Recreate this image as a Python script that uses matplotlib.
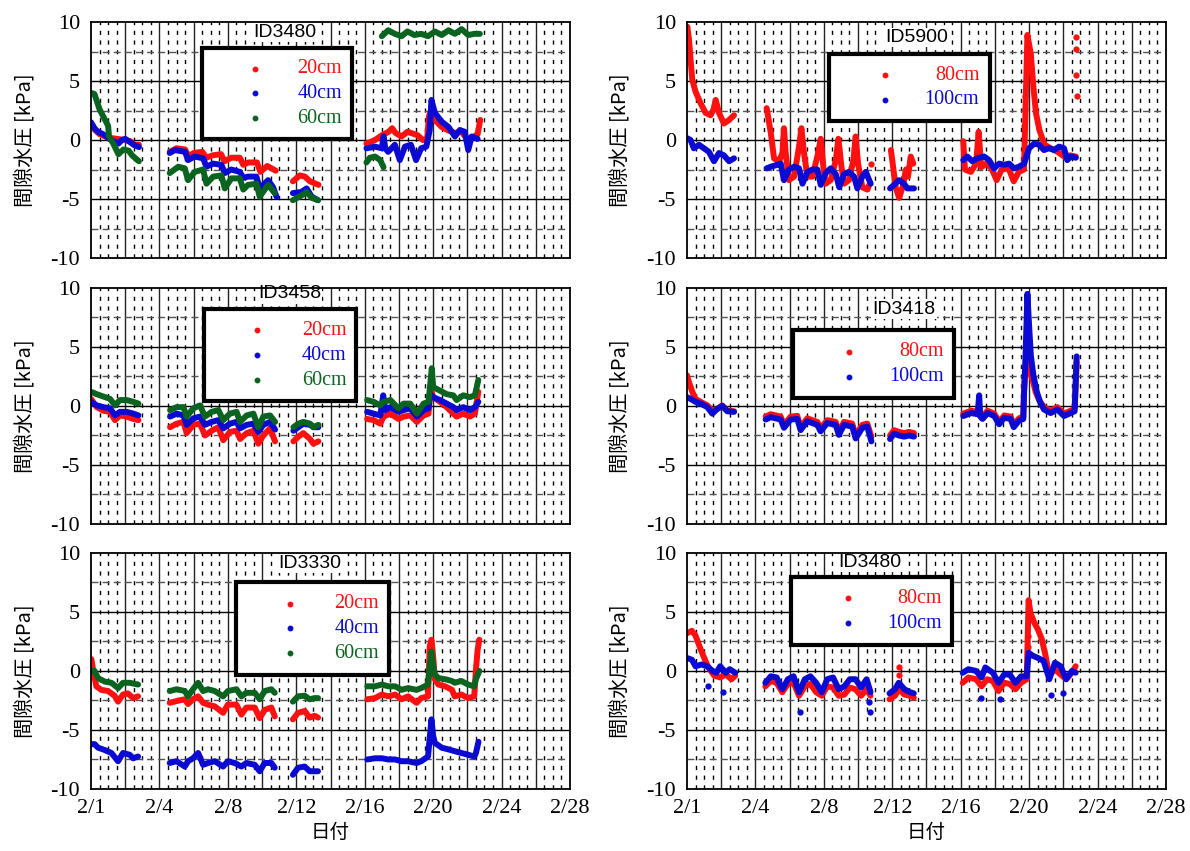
import numpy as np
import matplotlib
matplotlib.use("Agg")
import matplotlib.pyplot as plt
from matplotlib.patches import Rectangle

plt.rcParams["font.family"] = ["Liberation Serif", "DejaVu Sans"]

CJK = ["Noto Sans CJK JP", "DejaVu Sans"]
RED = "#ff1010"
BLUE = "#0a0ad2"
GREEN = "#0a6420"

X_TICKS = [0, 4, 8, 12, 16, 20, 24, 28]
X_LABELS = ["2/1", "2/4", "2/8", "2/12", "2/16", "2/20", "2/24", "2/28"]
Y_TICKS = [-10, -5, 0, 5, 10]

# ---------------- ID3480 (左上) ----------------
A20 = [
    [(0.0, 1.3), (0.2, 0.9), (0.5, 0.5), (1.0, 0.2), (1.5, 0.1), (2.0, 0.0), (2.3, -0.1), (2.5, -0.4), (2.8, -0.4)],
    [(4.6, -1.0), (5.0, -0.7), (5.5, -0.8), (5.7, -1.4), (6.0, -1.1), (6.5, -1.0), (6.75, -1.5), (7.1, -1.3), (7.6, -1.2),
     (7.8, -1.8), (8.2, -1.5), (8.7, -1.5), (8.9, -2.1), (9.2, -1.9), (9.7, -1.9), (9.9, -2.7), (10.3, -2.2), (10.8, -2.6)],
    [(11.8, -3.5), (12.2, -3.0), (12.5, -3.1), (12.8, -3.5), (13.3, -3.8)],
    [(16.1, -0.3), (16.6, 0.0), (17.0, 0.4), (17.4, 0.7), (17.6, 1.0), (17.8, 0.6), (18.15, 0.3), (18.5, 0.7), (19.1, 0.4),
     (19.4, 0.0), (19.65, 0.1), (19.75, 2.0), (19.85, 2.4), (20.1, 1.7), (20.5, 1.1), (20.9, 0.8), (21.3, 0.6), (21.65, 0.7),
     (22.05, 0.0), (22.4, 0.3), (22.6, 0.5), (22.75, 1.7)],
]
A40 = [
    [(0.0, 1.5), (0.2, 1.0), (0.4, 0.7), (0.7, 0.5), (1.0, 0.2), (1.3, -0.1), (1.6, -0.3), (1.8, 0.0), (2.0, 0.1), (2.3, -0.2),
     (2.5, -0.4), (2.8, -0.6)],
    [(4.6, -1.1), (4.9, -0.85), (5.5, -1.0), (5.67, -1.7), (6.06, -1.4), (6.55, -1.55), (6.75, -2.26), (7.14, -2.0), (7.62, -2.1),
     (7.82, -2.8), (8.2, -2.5), (8.7, -2.7), (8.9, -3.2), (9.18, -3.1), (9.67, -3.1), (9.86, -4.1), (10.35, -3.4), (10.64, -4.0),
     (10.84, -4.8)],
    [(11.8, -4.5), (12.3, -4.4), (12.6, -4.1), (12.9, -4.8), (13.27, -5.1)],
    [(16.1, -0.7), (16.6, -0.56), (17.0, -0.7), (17.1, 0.3), (17.2, -0.7), (17.37, -1.0), (17.76, -0.4), (18.05, -1.7),
     (18.35, -0.56), (18.7, -0.4), (19.0, -1.7), (19.3, -0.7), (19.6, -0.56), (19.8, 0.85), (19.9, 3.4), (20.1, 2.3),
     (20.5, 1.55), (20.9, 1.1), (21.27, 0.3), (21.56, 0.85), (21.85, 0.7), (22.05, -0.85), (22.25, 0.3), (22.6, 0.1)],
]
A60 = [
    [(0.0, 4.0), (0.2, 3.9), (0.5, 2.6), (1.0, 1.2), (1.05, 0.3), (1.3, -0.3), (1.6, -1.2), (1.9, -0.8), (2.2, -0.9),
     (2.4, -1.3), (2.8, -1.8)],
    [(4.6, -2.8), (5.1, -2.26), (5.48, -2.4), (5.67, -3.4), (6.06, -2.7), (6.55, -2.5), (6.75, -3.7), (7.14, -3.1), (7.62, -3.0),
     (7.82, -4.1), (8.2, -3.25), (8.7, -3.25), (8.9, -4.2), (9.18, -3.8), (9.67, -3.7), (9.86, -4.8), (10.35, -3.8), (10.74, -4.5)],
    [(11.8, -5.1), (12.3, -4.7), (12.6, -4.4), (12.9, -4.9), (13.27, -5.1)],
    [(16.1, -1.9), (16.3, -1.5), (16.6, -1.4), (16.9, -1.7), (17.1, -2.3)],
    [(17.0, 8.8), (17.37, 9.3), (17.76, 9.0), (18.15, 8.8), (18.5, 9.2), (18.9, 8.9), (19.3, 9.0), (19.7, 8.8), (20.1, 9.2),
     (20.5, 8.9), (20.9, 9.3), (21.27, 9.0), (21.66, 9.4), (22.05, 8.9), (22.4, 9.0), (22.73, 9.0)],
]

# ---------------- ID5900 (右上) ----------------
B80 = [
    [(0.02, 9.6), (0.12, 8.5), (0.21, 6.8), (0.31, 5.1), (0.5, 4.1), (0.8, 3.1), (1.09, 2.3), (1.38, 2.1), (1.55, 2.6),
     (1.68, 3.4), (1.87, 2.3), (2.16, 1.4), (2.46, 1.7), (2.75, 2.1)],
    [(4.66, 2.7), (4.9, 0.6), (5.09, -1.55), (5.38, -1.8), (5.58, -1.1), (5.67, 1.0), (5.77, -1.1), (5.96, -3.4), (6.26, -3.1),
     (6.55, -0.56), (6.69, 1.0), (6.84, -1.1), (7.04, -3.1), (7.33, -3.1), (7.62, -1.4), (7.82, 0.1), (7.97, -2.26),
     (8.11, -3.7), (8.4, -3.4), (8.7, -1.7), (8.85, 0.1), (9.03, -2.26), (9.18, -3.7), (9.47, -3.4), (9.73, -1.7),
     (9.86, 0.3), (10.0, -2.0), (10.25, -4.0), (10.55, -4.2), (10.65, -3.8)],
    [(11.92, -0.85), (12.0, -1.7), (12.2, -4.0), (12.4, -4.9), (12.6, -4.0), (12.8, -2.5), (12.92, -3.1), (13.08, -1.4),
     (13.23, -2.0)],
    [(16.15, -0.1), (16.25, -2.5), (16.6, -2.7), (16.9, -2.0), (17.05, 0.7), (17.2, -2.3), (17.5, -2.0), (17.8, -2.4),
     (18.1, -3.4), (18.4, -2.5), (18.8, -2.4), (19.1, -3.5), (19.4, -2.7), (19.7, -2.5), (19.9, 8.9), (20.1, 7.3),
     (20.25, 4.5), (20.4, 2.3), (20.6, 0.85), (20.9, -0.4), (21.27, -0.7), (21.66, -1.0), (22.05, -1.4), (22.4, -1.3),
     (22.73, -1.4)],
]
B80_EXTRA = [(10.78, -2.0), (19.72, 1.2), (19.75, 2.6), (19.78, 3.7), (22.75, 8.7), (22.75, 7.7), (22.75, 5.5), (22.78, 3.7)]
B100 = [
    [(0.02, 0.15), (0.21, 0.0), (0.4, -0.7), (0.7, -0.4), (0.99, -0.7), (1.28, -1.0), (1.58, -1.8), (1.87, -1.1),
     (2.16, -1.3), (2.46, -1.8), (2.75, -1.55)],
    [(4.66, -2.4), (4.9, -2.26), (5.28, -2.1), (5.48, -2.0), (5.67, -3.4), (5.96, -2.5), (6.26, -2.26), (6.55, -2.4),
     (6.75, -3.7), (7.04, -2.7), (7.33, -2.5), (7.62, -2.5), (7.82, -3.8), (8.11, -2.8), (8.4, -2.4), (8.7, -2.9),
     (8.9, -4.0), (9.18, -2.9), (9.47, -2.7), (9.77, -3.1), (9.96, -4.1), (10.25, -3.1), (10.45, -2.7), (10.74, -3.7)],
    [(11.87, -4.1), (12.1, -3.8), (12.39, -3.4), (12.69, -3.7), (12.88, -4.1), (13.27, -4.1)],
    [(16.15, -1.7), (16.39, -1.4), (16.68, -1.8), (16.97, -1.55), (17.37, -1.4), (17.66, -1.7), (17.95, -2.4), (18.25, -2.0),
     (18.54, -2.1), (18.83, -2.0), (19.12, -2.4), (19.41, -2.26), (19.71, -2.0), (20.0, -0.7), (20.3, -0.3), (20.58, -0.4),
     (20.87, -0.85), (21.16, -0.7), (21.46, -0.85), (21.75, -0.56), (22.04, -0.7), (22.23, -1.7), (22.43, -1.4),
     (22.73, -1.5)],
]

# ---------------- ID3458 (左中) ----------------
C20 = [
    [(0.0, 0.6), (0.33, -0.1), (0.72, -0.4), (1.11, -0.5), (1.4, -1.2), (1.69, -0.8), (2.08, -0.9), (2.47, -1.1), (2.77, -1.2)],
    [(4.62, -1.8), (5.0, -1.5), (5.4, -1.35), (5.59, -2.3), (5.98, -1.6), (6.37, -1.5), (6.66, -2.5), (7.05, -2.1),
     (7.44, -1.8), (7.73, -2.9), (8.12, -2.2), (8.51, -2.1), (8.71, -2.8), (9.1, -2.3), (9.49, -2.1), (9.78, -3.2),
     (10.07, -2.5), (10.46, -1.9), (10.76, -3.0)],
    [(11.83, -3.0), (12.12, -2.6), (12.41, -2.3), (12.8, -2.8), (13.0, -3.2), (13.29, -3.0)],
    [(16.14, -1.1), (16.52, -1.2), (16.91, -1.5), (17.1, -0.9), (17.5, -0.65), (17.97, -1.1), (18.27, -0.9), (18.66, -0.8),
     (19.05, -1.35), (19.44, -0.8), (19.73, -0.65), (19.83, 1.6), (20.0, 0.75), (20.4, 0.35), (20.79, -0.1), (21.18, -0.65),
     (21.37, -0.9), (21.76, -0.65), (22.15, -0.9), (22.44, -0.65), (22.64, 1.2)],
]
C40 = [
    [(0.0, 0.35), (0.33, 0.05), (0.72, -0.1), (1.11, -0.2), (1.4, -0.8), (1.69, -0.5), (2.08, -0.5), (2.47, -0.65), (2.77, -0.8)],
    [(4.62, -0.9), (5.0, -0.65), (5.4, -0.8), (5.59, -1.6), (5.98, -1.05), (6.37, -0.9), (6.66, -1.6), (7.05, -1.35),
     (7.44, -1.2), (7.73, -1.9), (8.12, -1.5), (8.51, -1.35), (8.71, -1.9), (9.1, -1.6), (9.49, -1.5), (9.78, -2.2),
     (10.07, -1.6), (10.46, -1.35), (10.76, -2.0)],
    [(11.83, -2.1), (12.12, -1.8), (12.41, -1.5), (12.8, -1.6), (13.0, -1.8), (13.29, -1.8)],
    [(16.14, -0.5), (16.52, -0.65), (16.91, -0.8), (17.08, 0.9), (17.2, -0.35), (17.5, -0.1), (17.97, -0.5), (18.27, -0.35),
     (18.66, -0.2), (19.05, -0.9), (19.44, -0.35), (19.73, -0.2), (19.83, 1.0), (20.0, 0.75), (20.4, 0.5), (20.79, 0.2),
     (21.18, -0.1), (21.37, -0.35), (21.76, -0.1), (22.15, -0.35), (22.44, -0.1), (22.64, 0.35)],
]
C60 = [
    [(0.0, 1.2), (0.33, 1.0), (0.72, 0.8), (1.11, 0.6), (1.4, 0.05), (1.69, 0.5), (2.08, 0.5), (2.47, 0.35), (2.77, 0.2)],
    [(4.62, -0.35), (5.0, -0.1), (5.4, -0.1), (5.59, -0.9), (5.98, -0.2), (6.37, 0.05), (6.66, -0.9), (7.05, -0.5),
     (7.44, -0.35), (7.73, -1.2), (8.12, -0.65), (8.51, -0.5), (8.71, -1.35), (9.1, -0.8), (9.49, -0.65), (9.78, -1.8),
     (10.07, -0.9), (10.46, -0.8), (10.76, -1.35)],
    [(11.83, -1.8), (12.12, -1.5), (12.41, -1.35), (12.8, -1.5), (13.0, -1.8), (13.29, -1.6)],
    [(16.14, 0.5), (16.52, 0.35), (16.91, 0.05), (17.1, 0.35), (17.5, 0.5), (17.97, -0.2), (18.27, 0.2), (18.66, 0.2),
     (19.05, -0.65), (19.44, 0.2), (19.73, 0.35), (19.92, 3.2), (20.0, 1.6), (20.4, 1.3), (20.79, 1.0), (21.18, 0.9),
     (21.37, 0.5), (21.76, 0.9), (22.15, 0.75), (22.44, 0.9), (22.64, 2.2)],
]

# ---------------- ID3418 (右中) ----------------
D80 = [
    [(0.0, 2.6), (0.12, 2.0), (0.31, 1.2), (0.5, 0.6), (0.8, 0.35), (1.19, 0.05), (1.48, -0.4), (1.77, -0.25), (2.06, 0.05),
     (2.36, -0.4), (2.75, -0.45)],
    [(4.6, -0.9), (4.89, -0.7), (5.48, -0.9), (5.67, -1.6), (6.06, -0.9), (6.45, -0.85), (6.64, -1.8), (7.03, -1.05),
     (7.62, -1.35), (7.81, -1.9), (8.2, -1.2), (8.69, -1.35), (8.88, -2.2), (9.18, -1.35), (9.66, -1.5), (9.86, -2.5),
     (10.25, -1.6), (10.54, -1.5), (10.78, -2.6)],
    [(11.87, -2.5), (12.1, -2.05), (12.39, -2.2), (12.69, -2.3), (12.98, -2.2), (13.27, -2.3)],
    [(16.15, -0.65), (16.6, -0.4), (16.99, -0.5), (17.28, -0.9), (17.57, -0.4), (17.96, -0.65), (18.25, -1.35), (18.55, -0.8),
     (18.92, -0.9), (19.1, -1.6), (19.41, -1.05), (19.66, -0.9), (19.7, 1.2), (19.8, 3.4), (19.9, 3.6), (20.0, 2.9),
     (20.19, 2.3), (20.38, 1.2), (20.58, 0.5), (20.87, -0.1), (21.26, -0.4), (21.65, -0.1), (22.04, -0.65), (22.43, -0.4),
     (22.66, -0.25), (22.78, 3.7)],
]
D100 = [
    [(0.0, 0.75), (0.21, 0.6), (0.5, 0.35), (0.8, 0.2), (1.19, -0.1), (1.48, -0.65), (1.77, -0.25), (2.06, 0.0),
     (2.36, -0.45), (2.75, -0.5)],
    [(4.6, -1.15), (4.89, -0.95), (5.48, -1.15), (5.67, -1.85), (6.06, -1.15), (6.45, -1.1), (6.64, -2.05), (7.03, -1.3),
     (7.62, -1.6), (7.81, -2.15), (8.2, -1.45), (8.69, -1.6), (8.88, -2.45), (9.18, -1.6), (9.66, -1.75), (9.86, -2.75),
     (10.25, -1.85), (10.54, -1.75), (10.78, -3.0)],
    [(11.87, -2.8), (12.1, -2.35), (12.39, -2.5), (12.69, -2.6), (12.98, -2.5), (13.27, -2.6)],
    [(16.15, -0.85), (16.6, -0.6), (16.99, -0.7), (17.08, 0.9), (17.15, -0.9), (17.28, -1.1), (17.57, -0.6), (17.96, -0.85),
     (18.25, -1.55), (18.55, -1.0), (18.92, -1.1), (19.1, -1.8), (19.41, -1.25), (19.66, -1.1), (19.7, 0.9), (19.8, 4.6),
     (19.9, 9.5), (20.0, 6.8), (20.1, 4.3), (20.25, 2.6), (20.45, 1.2), (20.65, 0.3), (20.87, -0.3), (21.26, -0.6),
     (21.65, -0.3), (22.04, -0.85), (22.43, -0.6), (22.66, -0.45), (22.78, 4.2)],
]

# ---------------- ID3330 (左下) ----------------
E20 = [
    [(0.02, 1.0), (0.12, 0.1), (0.31, -1.3), (0.6, -1.6), (0.99, -1.7), (1.38, -2.1), (1.58, -2.6), (1.87, -2.0),
     (2.16, -1.9), (2.46, -2.3), (2.75, -2.15)],
    [(4.6, -2.7), (5.0, -2.55), (5.48, -2.4), (5.67, -2.8), (5.96, -2.4), (6.26, -2.15), (6.55, -2.7), (6.84, -2.85),
     (7.23, -3.0), (7.72, -3.55), (8.0, -2.85), (8.5, -2.85), (8.79, -3.7), (9.08, -3.1), (9.57, -3.1), (9.86, -4.0),
     (10.15, -3.3), (10.54, -3.1), (10.74, -3.85)],
    [(11.8, -4.1), (12.1, -3.55), (12.49, -3.4), (12.78, -3.95), (13.07, -3.8), (13.27, -3.95)],
    [(16.15, -2.4), (16.6, -2.3), (17.0, -2.0), (17.38, -2.15), (17.78, -2.0), (18.15, -2.4), (18.53, -2.15), (19.03, -2.7),
     (19.3, -2.3), (19.7, -2.15), (19.8, 2.1), (19.9, 2.65), (20.0, 1.25), (20.1, -0.7), (20.3, -1.15), (20.7, -1.3),
     (21.1, -1.6), (21.26, -2.15), (21.65, -2.0), (22.04, -2.3), (22.4, -2.15), (22.5, 0.1), (22.6, 1.8), (22.7, 2.65)],
]
E40 = [
    [(0.02, -6.2), (0.21, -6.2), (0.41, -6.5), (0.8, -6.7), (1.19, -6.95), (1.58, -7.65), (1.87, -6.95), (2.26, -7.1),
     (2.46, -7.4), (2.75, -7.25)],
    [(4.6, -7.8), (5.0, -7.65), (5.48, -8.1), (5.67, -7.65), (5.96, -7.4), (6.26, -6.95), (6.55, -7.95), (6.84, -7.8),
     (7.23, -7.65), (7.72, -8.1), (8.0, -7.65), (8.4, -7.8), (8.79, -8.1), (9.08, -7.8), (9.57, -7.95), (9.86, -8.5),
     (10.15, -7.8), (10.54, -7.8), (10.74, -8.2)],
    [(11.8, -8.8), (12.1, -8.2), (12.49, -8.1), (12.78, -8.5), (13.07, -8.5), (13.27, -8.5)],
    [(16.15, -7.5), (16.6, -7.4), (17.0, -7.4), (17.38, -7.5), (17.78, -7.5), (18.15, -7.65), (18.53, -7.65), (19.03, -7.8),
     (19.3, -7.65), (19.7, -7.25), (19.9, -4.1), (20.0, -5.5), (20.1, -6.1), (20.5, -6.5), (20.9, -6.65), (21.26, -6.8),
     (21.65, -6.95), (22.04, -7.1), (22.4, -7.25), (22.5, -6.95), (22.65, -6.0)],
]
E60 = [
    [(0.02, 0.0), (0.21, 0.0), (0.41, -0.6), (0.8, -0.9), (1.19, -1.0), (1.58, -1.45), (1.87, -1.0), (2.26, -1.0),
     (2.75, -1.15)],
    [(4.6, -1.7), (5.0, -1.55), (5.48, -1.7), (5.67, -2.15), (5.96, -1.55), (6.26, -1.0), (6.55, -1.7), (6.84, -1.55),
     (7.23, -1.7), (7.72, -2.15), (8.0, -1.7), (8.5, -1.55), (8.79, -2.15), (9.08, -1.85), (9.57, -1.85), (9.86, -2.4),
     (10.15, -1.7), (10.54, -1.55), (10.74, -1.85)],
    [(11.8, -2.6), (12.1, -2.15), (12.49, -2.1), (12.78, -2.4), (13.07, -2.3), (13.27, -2.3)],
    [(16.15, -1.3), (16.6, -1.3), (17.0, -1.15), (17.38, -1.3), (17.78, -1.3), (18.15, -1.6), (18.53, -1.45), (19.03, -1.6),
     (19.3, -1.45), (19.7, -1.15), (19.8, 0.4), (19.9, 1.65), (20.0, 0.4), (20.1, -0.3), (20.3, -0.6), (20.7, -0.7),
     (21.1, -0.85), (21.26, -1.0), (21.65, -0.85), (22.04, -1.15), (22.4, -1.3), (22.5, -0.7), (22.7, 0.0)],
]

# ---------------- ID3480 (右下) ----------------
F80 = [
    [(0.0, 3.2), (0.29, 3.4), (0.5, 3.0), (0.73, 2.1), (0.95, 1.3), (1.17, 0.55), (1.39, 0.0), (1.6, -0.4), (1.94, -0.55),
     (2.27, -0.3), (2.6, -0.7), (2.82, -0.4)],
    [(4.58, -1.3), (4.9, -0.85), (5.24, -1.0), (5.57, -1.8), (5.9, -1.1), (6.23, -1.0), (6.55, -2.1), (6.89, -1.3),
     (7.21, -1.1), (7.55, -1.8), (7.88, -2.1), (8.2, -1.3), (8.54, -1.4), (8.87, -2.1), (9.2, -2.0), (9.52, -1.4),
     (9.85, -1.55), (10.18, -2.1), (10.5, -1.55), (10.73, -2.1)],
    [(11.84, -2.4), (12.16, -2.1), (12.38, -1.55), (12.71, -2.0), (13.04, -2.1), (13.26, -2.26)],
    [(16.12, -1.0), (16.45, -0.55), (16.9, -0.7), (17.22, -1.3), (17.55, -0.7), (17.88, -0.85), (18.21, -1.7), (18.54, -1.0),
     (18.87, -1.1), (19.2, -1.55), (19.53, -1.0), (19.86, -0.7), (19.97, 6.0), (20.08, 4.9), (20.3, 4.1), (20.52, 3.5),
     (20.74, 2.7), (20.96, 1.3), (21.18, -0.4), (21.51, 0.15), (21.84, -0.3), (22.17, -0.7), (22.5, -0.15), (22.72, 0.4)],
]
F80_EXTRA = [(12.38, 0.3), (12.38, -0.3), (19.95, 2.0), (19.95, 3.0)]
F100 = [
    [(0.0, 1.1), (0.29, 0.95), (0.5, 0.4), (0.85, 0.55), (1.17, 0.4), (1.5, 0.0), (1.72, -0.15), (1.94, 0.4), (2.27, -0.15),
     (2.5, 0.15), (2.82, -0.15)],
    [(4.58, -1.0), (4.9, -0.45), (5.24, -0.55), (5.57, -1.55), (5.9, -0.7), (6.23, -0.45), (6.55, -1.8), (6.89, -0.7),
     (7.21, -0.45), (7.55, -1.0), (7.88, -1.8), (8.2, -0.7), (8.54, -0.55), (8.87, -1.55), (9.2, -1.3), (9.52, -0.7),
     (9.85, -0.7), (10.18, -1.4), (10.5, -0.7), (10.73, -1.8)],
    [(11.84, -1.9), (12.16, -1.55), (12.38, -1.0), (12.71, -1.55), (13.04, -1.8), (13.26, -1.9)],
    [(16.12, -0.15), (16.45, 0.15), (16.9, 0.0), (17.22, -0.55), (17.44, 0.3), (17.88, -0.15), (18.21, -1.0), (18.54, -0.3),
     (18.87, -0.3), (19.2, -1.0), (19.53, -0.45), (19.86, -0.45), (19.97, 1.55), (20.2, 1.3), (20.52, 1.1), (20.85, 0.85),
     (21.18, -0.7), (21.51, 0.7), (21.84, 0.4), (22.17, -0.7), (22.5, 0.0), (22.72, -0.15)],
]
F100_EXTRA = [(1.2, -1.3), (2.1, -1.8), (6.6, -3.5), (10.7, -3.5), (10.65, -2.6), (17.2, -2.3), (18.3, -2.4),
              (21.3, -2.0), (22.0, -1.9)]

# パネル: (位置, タイトル, タイトル位置, 凡例枠, 系列)
PANELS = [
    ([0.0765, 0.6968], "ID3480", (11.3, 9.15), (6.5, 0.1, 15.25, 7.8),
     [("20cm", RED, A20, []), ("40cm", BLUE, A40, []), ("60cm", GREEN, A60, [])]),
    ([0.5773, 0.6968], "ID5900", (13.4, 8.7), (8.3, 1.6, 17.7, 7.3),
     [("80cm", RED, B80, B80_EXTRA), ("100cm", BLUE, B100, [])]),
    ([0.0765, 0.3843], "ID3458", (11.6, 9.5), (6.6, 0.4, 15.5, 8.2),
     [("20cm", RED, C20, []), ("40cm", BLUE, C40, []), ("60cm", GREEN, C60, [])]),
    ([0.5773, 0.3843], "ID3418", (12.7, 8.2), (6.2, 0.65, 15.6, 6.4),
     [("80cm", RED, D80, []), ("100cm", BLUE, D100, [])]),
    ([0.0765, 0.0729], "ID3330", (12.8, 9.1), (8.5, -0.35, 17.4, 7.55),
     [("20cm", RED, E20, []), ("40cm", BLUE, E40, []), ("60cm", GREEN, E60, [])]),
    ([0.5773, 0.0729], "ID3480", (10.7, 9.2), (6.1, 2.2, 15.5, 8.0),
     [("80cm", RED, F80, F80_EXTRA), ("100cm", BLUE, F100, F100_EXTRA)]),
]


def draw_grid(ax):
    for d in np.arange(0.5, 28, 0.5):
        if d % 2 == 0:
            ax.axvline(d, color="#222222", lw=1.0, zorder=1)
        else:
            ax.axvline(d, color="black", lw=1.0, ls=(0, (3, 4)), zorder=1)
    for v in [-5, 0, 5]:
        ax.axhline(v, color="black", lw=1.0, zorder=1)
    for v in [-7.5, -2.5, 2.5, 7.5]:
        ax.axhline(v, color="#555555", lw=1.0, ls=(0, (5, 3)), zorder=1)


def draw_panel(fig, pos, title, title_xy, box, series, bottom):
    ax = fig.add_axes([pos[0], pos[1], 0.4025, 0.2773])
    ax.set_xlim(0, 28)
    ax.set_ylim(-10, 10)
    draw_grid(ax)

    for name, color, segs, extra in series:
        for seg in segs:
            d = [p[0] for p in seg]
            v = [p[1] for p in seg]
            ax.plot(d, v, color=color, lw=4.3, solid_capstyle="round",
                    solid_joinstyle="round", zorder=3)
        if extra:
            ax.plot([p[0] for p in extra], [p[1] for p in extra], ls="none",
                    marker="o", ms=3.5, color=color, zorder=3)

    # 凡例
    x0, y0, x1, y1 = box
    ax.add_patch(Rectangle((x0, y0), x1 - x0, y1 - y0, facecolor="white",
                           edgecolor="black", lw=3.0, zorder=5))
    n = len(series)
    yc = (y0 + y1) / 2
    for i, (name, color, segs, extra) in enumerate(series):
        yy = yc + 2.1 * ((n - 1) / 2 - i)
        ax.plot(x0 + (x1 - x0) * 0.35, yy, ls="none", marker="o", ms=3.2,
                color=color, zorder=6)
        ax.text(x1 - (x1 - x0) * 0.065, yy, name, color=color, fontsize=14.5,
                ha="right", va="center", family=["Liberation Serif"], zorder=6)

    ax.text(title_xy[0], title_xy[1], title, fontsize=14, ha="center",
            va="center", family=["Liberation Sans"], zorder=6,
            bbox=dict(facecolor="white", edgecolor="none", pad=1.0))

    ax.set_yticks(Y_TICKS)
    ax.set_yticklabels([str(t) for t in Y_TICKS], fontsize=16)
    ax.set_xticks(X_TICKS)
    if bottom:
        ax.set_xticklabels(X_LABELS, fontsize=16)
        ax.set_xlabel("日付", family=CJK, fontsize=14, labelpad=3)
    else:
        ax.set_xticklabels([])
    ax.tick_params(axis="y", length=0, pad=8)
    ax.tick_params(axis="x", length=0, pad=7)
    ax.set_ylabel("間隙水圧 [kPa]", family=CJK, fontsize=14.5, labelpad=11)
    for s in ax.spines.values():
        s.set_linewidth(1.3)
        s.set_zorder(7)
    return ax


fig = plt.figure(figsize=(11.9, 8.51), dpi=100)
for i, (pos, title, txy, box, series) in enumerate(PANELS):
    draw_panel(fig, pos, title, txy, box, series, bottom=(i >= 4))

fig.savefig("out.png", dpi=100, facecolor="white")
